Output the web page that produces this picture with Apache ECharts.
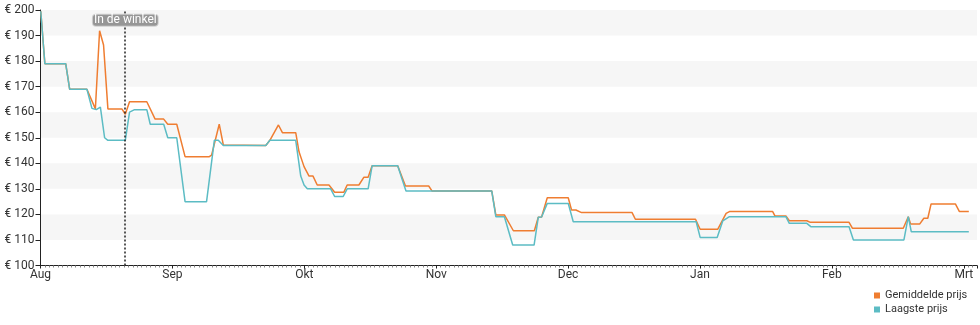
<!DOCTYPE html>
<html><head><meta charset="utf-8">
<script src="https://cdn.jsdelivr.net/npm/echarts@6/dist/echarts.min.js"></script>
<style>html,body{margin:0;padding:0;background:#fff}#c{width:980px;height:325px}</style>
</head><body><div id="c"></div>
<script>
// x positions are in months since 1 Aug (0 = Aug, 1 = Sep, ... 7 = Mrt)
const months = ['Aug','Sep','Okt','Nov','Dec','Jan','Feb','Mrt'];
const storePos = 0.643;
const storeLabel = 'In de winkel';
const storeLabelPrice = 196;

const avgPos = [0.002,0.033,0.191,0.221,0.352,0.416,0.448,0.478,0.511,0.617,0.643,0.675,0.806,0.869,0.934,0.965,1.033,1.096,1.280,1.297,1.355,1.386,1.708,1.739,1.804,1.834,1.935,1.960,1.998,2.036,2.066,2.098,2.187,2.230,2.300,2.325,2.414,2.451,2.484,2.514,2.708,2.767,2.943,2.968,3.421,3.452,3.517,3.585,3.744,3.774,3.799,3.842,4.001,4.026,4.059,4.102,4.485,4.510,4.966,5.001,5.135,5.198,5.223,5.551,5.568,5.651,5.677,5.810,5.836,6.130,6.155,6.541,6.579,6.597,6.665,6.697,6.727,6.752,6.936,6.967,7.038];
const avgPrice = [199.5,179,179,169,169,161.3,191.9,186.3,161.3,161.3,159.2,164.1,164.1,157.3,157.3,155.3,155.3,142.6,142.6,143.2,155.3,147.2,147,149,155,152,152,144.5,138.7,135,135,131.5,131.5,128.7,128.7,131.5,131.5,134.5,134.5,139,139,131.1,131.1,129.2,129.2,119.8,119.8,113.6,113.6,118.9,119,126.5,126.5,121.7,121.7,120.7,120.7,118.1,118.1,114.2,114.2,120.4,121.1,121.1,119.4,119.4,117.5,117.5,116.9,116.9,114.6,114.6,119.1,116.2,116.2,118.5,118.5,124.1,124.1,121.1,121.1];

const lowPos = [0.002,0.033,0.191,0.221,0.352,0.390,0.423,0.454,0.486,0.511,0.643,0.675,0.713,0.806,0.832,0.934,0.965,1.033,1.096,1.259,1.318,1.348,1.386,1.708,1.739,1.935,1.973,1.998,2.023,2.200,2.230,2.295,2.325,2.484,2.514,2.708,2.771,3.421,3.452,3.517,3.580,3.742,3.774,3.799,3.842,4.001,4.039,4.971,5.001,5.130,5.173,5.223,5.651,5.677,5.810,5.840,6.130,6.163,6.546,6.579,6.602,7.038];
const lowPrice = [199.5,179,179,169,169,161.5,161,162,150,149,149,160,161,161,155.3,155.3,150,150,125,125,149,149,147,147,149,149,135,131.5,130,130,127,127,130,130,139,139,129.2,129.2,119.1,119.1,108,108,118.9,119,124.3,124.3,117.1,117.1,111,111,117.5,119.1,119.1,116.5,116.5,115.2,115.2,110,110,119.1,113.2,113.2];

const zip = (a, b) => a.map((x, i) => [x, b[i]]);
const font = 'Roboto';
const chart = echarts.init(document.getElementById('c'), null, {renderer: 'canvas'});
chart.setOption({
  animation: false,
  color: ['#ef7d31', '#5cbcc4'],
  grid: {left: 40.5, right: 0, top: 10, bottom: 59.5},
  legend: {
    orient: 'vertical', left: 874, top: 290, padding: 0, itemGap: 3,
    itemWidth: 6, itemHeight: 6, icon: 'rect',
    textStyle: {fontFamily: font, fontSize: 11, color: '#333', padding: [0,0,0,0]},
    data: ['Gemiddelde prijs', 'Laagste prijs']
  },
  xAxis: {
    type: 'value', min: 0, max: 7.1, interval: 1,
    axisLine: {show: true, lineStyle: {color: '#222', width: 1}},
    axisTick: {show: true, length: 3, lineStyle: {color: '#222'}},
    minorTick: {show: true, splitNumber: 30, length: 2, lineStyle: {color: '#888'}},
    splitLine: {show: false},
    axisLabel: {
      margin: 3, color: '#333', fontFamily: font, fontSize: 12,
      formatter: v => Math.abs(v - Math.round(v)) < 1e-6 && months[Math.round(v)] ? months[Math.round(v)] : ''
    }
  },
  yAxis: {
    type: 'value', min: 100, max: 200, interval: 10,
    axisLine: {show: true, lineStyle: {color: '#222', width: 1}},
    axisTick: {show: true, length: 5, lineStyle: {color: '#222'}},
    splitLine: {show: false},
    splitArea: {show: true, areaStyle: {color: ['rgba(255,255,255,0)', '#f6f6f6']}},
    axisLabel: {margin: 6, color: '#333', fontFamily: font, fontSize: 12, formatter: '€ {value}'}
  },
  series: [
    {
      name: 'Gemiddelde prijs', type: 'line', data: zip(avgPos, avgPrice),
      showSymbol: false, symbol: 'none', lineStyle: {width: 1.5}
    },
    {
      name: 'Laagste prijs', type: 'line', data: zip(lowPos, lowPrice),
      showSymbol: false, symbol: 'none', lineStyle: {width: 1.5},
      markLine: {
        silent: true, symbol: 'none',
        lineStyle: {color: '#222', type: [2, 2], width: 1.5},
        label: {show: false},
        data: [{xAxis: storePos}]
      },
      markPoint: {
        silent: true, symbol: 'rect', symbolSize: 0,
        label: {
          show: true, position: 'inside', formatter: storeLabel,
          color: '#fff', fontFamily: font, fontSize: 12,
          backgroundColor: '#969696', borderColor: '#d0d0d0', borderWidth: 1,
          borderRadius: 3, padding: [0, 1, -1, 1]
        },
        data: [{coord: [storePos, storeLabelPrice]}]
      }
    }
  ]
});
</script></body></html>
